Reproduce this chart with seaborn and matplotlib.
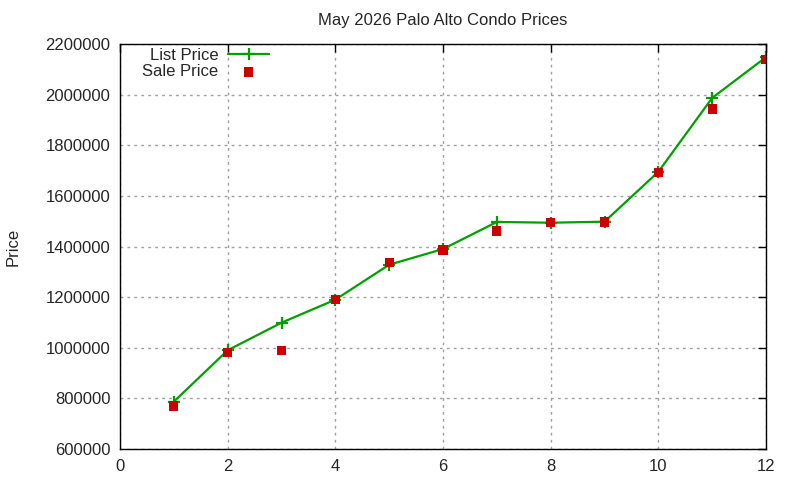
import matplotlib
matplotlib.use("Agg")
import matplotlib.pyplot as plt
import seaborn as sns
import pandas as pd

months = [1, 2, 3, 4, 5, 6, 7, 8, 9, 10, 11, 12]
list_price = [787000, 990000, 1099000, 1190000, 1328000, 1390000, 1497000, 1494000, 1498000, 1695000, 1987000, 2148000]
sale_price = [770000, 980000, 988000, 1190000, 1336000, 1386000, 1461000, 1494000, 1497000, 1692000, 1943000, 2138000]

x_ticks = [0, 2, 4, 6, 8, 10, 12]
y_ticks = [600000, 800000, 1000000, 1200000, 1400000, 1600000, 1800000, 2000000, 2200000]

df = pd.DataFrame({"Month": months, "List Price": list_price, "Sale Price": sale_price})

sns.set_style("white")
plt.rcParams["font.family"] = ["Liberation Sans", "DejaVu Sans"]

fig = plt.figure(figsize=(8, 4.8), dpi=100)
ax = fig.add_axes([0.15, 0.0646, 0.8075, 0.8437])

sns.lineplot(data=df, x="Month", y="List Price", ax=ax, color="#00a000", linewidth=1.6,
             marker="+", markersize=8, markeredgewidth=1.6, markeredgecolor="#00a000",
             label="List Price")
sns.scatterplot(data=df, x="Month", y="Sale Price", ax=ax, color="#cc0000", marker="s",
                s=45, edgecolor="none", label="Sale Price", zorder=3)

ax.set_xlim(0, 12)
ax.set_ylim(600000, 2200000)
ax.set_xticks(x_ticks)
ax.set_yticks(y_ticks)
ax.set_xticklabels([str(t) for t in x_ticks])
ax.set_yticklabels([str(t) for t in y_ticks])
ax.tick_params(direction="in", length=6, width=1, top=True, right=True, labelsize=12, color="black")
ax.tick_params(axis="x", pad=7)
ax.tick_params(axis="y", pad=7)
ax.grid(True, color="#a0a0a0", linestyle=(0, (2, 3)), linewidth=1)
for s in ax.spines.values():
    s.set_color("black")
    s.set_linewidth(1)
    s.set_visible(True)

ax.set_xlabel("")
ax.set_ylabel("Price", fontsize=12, labelpad=18)
ax.set_title("May 2026 Palo Alto Condo Prices", fontsize=12, pad=14)

leg = ax.legend(loc="upper left", bbox_to_anchor=(0.016, 1.02), frameon=False, markerfirst=False,
                fontsize=12, handlelength=2.45, handletextpad=0.6, labelspacing=0.1, borderaxespad=0.3)

fig.savefig("out.png", dpi=100)
